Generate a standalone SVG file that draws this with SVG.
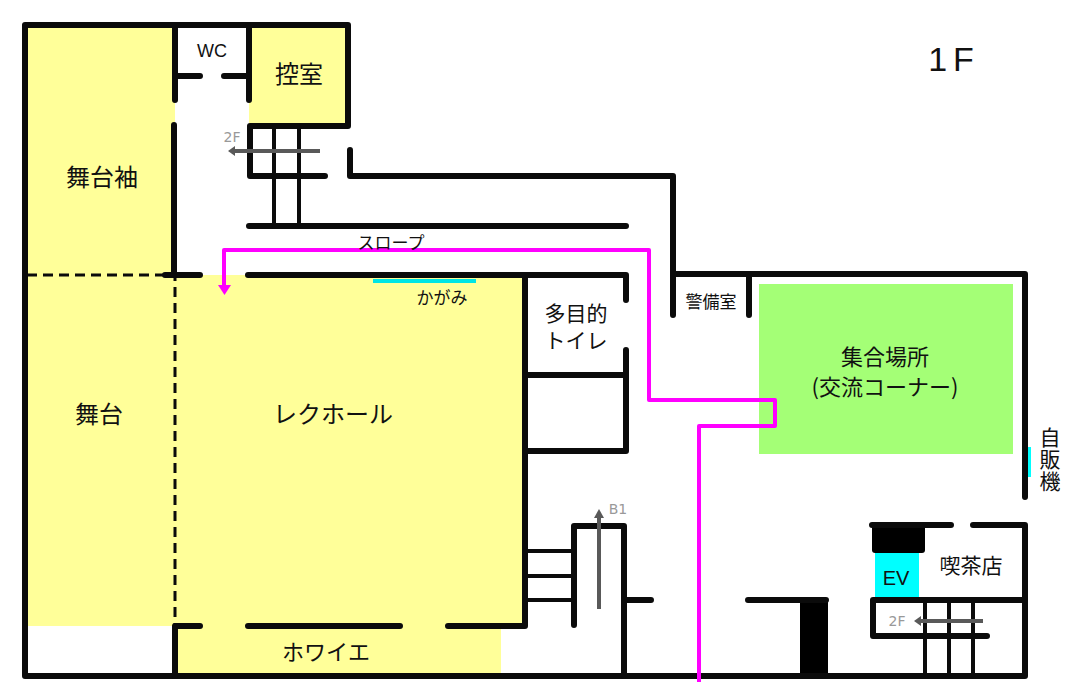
<svg xmlns="http://www.w3.org/2000/svg" width="1080" height="700" viewBox="0 0 1080 700">
<style>
text{font-family:"Noto Sans CJK JP","Liberation Sans",sans-serif;fill:#111;text-anchor:middle}
.f{font-family:"Liberation Sans","Noto Sans CJK JP",sans-serif}
.w{stroke:#0b0b0b;stroke-width:6;fill:none;stroke-linecap:round;stroke-linejoin:round}
.t{stroke:#0b0b0b;stroke-width:4;fill:none}
.y{fill:#ffff99}
.g{stroke:#595959;stroke-width:4;fill:none}
.gt{fill:#999;font-size:14px;font-family:"DejaVu Sans",sans-serif}
.m{stroke:#ff00ff;stroke-width:4;fill:none;stroke-linejoin:round}
</style>
<rect width="1080" height="700" fill="#fff"/>
<g id="rooms">
<rect class="y" x="25" y="25" width="150" height="601"/>
<rect class="y" x="175" y="275" width="350" height="351"/>
<rect class="y" x="175" y="626" width="326" height="50"/>
<rect class="y" x="249" y="25" width="99" height="101"/>
<rect x="759" y="284" width="254" height="170" fill="#a4ff76"/>
<rect x="875" y="553" width="44" height="45" fill="#00ffff"/>
<rect x="373" y="279" width="103" height="4" fill="#00e5e5"/>
<rect x="1027" y="447" width="4" height="30" fill="#00ffff"/>
<rect x="872" y="525" width="53" height="28" rx="3" fill="#000"/>
<rect x="800" y="598" width="28" height="78" fill="#000"/>
</g>
<g id="walls">
<path class="w" d="M175 100V25M249 100V25M25 25H348V126H250V176H325M25 25V676H1025V525H973M951 525H872M175 76H200M224 76H249"/>
<path class="w" d="M174 125V275M165 275H200M249 226H626M248 275H626V300M626 350V451H525M525 275V626H448M400 626H248M200 626H175V676M525 375H626"/>
<path class="w" d="M350 150V176H673V315M673 274H1025V497M749 274V315"/>
<path class="w" d="M574 625V526H624V676M624 600H651M748 600H826M873 600H1025M873 600V636H987"/>
<path class="t" d="M274 126V226M299 126V226M527 551H574M527 576H574M527 600H574M925 600V676M949 600V676M973 600V676"/>
<path d="M27 275H175V626" fill="none" stroke="#0b0b0b" stroke-width="3" stroke-dasharray="10 6"/>
</g>
<g id="connectors">
<path class="m" d="M224 288V250H649V400H775V426H699V682"/>
<path d="M218 285H231L224.500 295Z" fill="#ff00ff"/>
<path class="g" d="M320 151H234"/><path d="M228 151L235 146V156Z" fill="#595959"/>
<path class="g" d="M599 609V516"/><path d="M599 509L604 518H594Z" fill="#595959"/>
<path class="g" d="M983 621H920"/><path d="M914 621L921 616V626Z" fill="#595959"/>
</g>
<g id="labels">
<text x="954" y="71" font-size="34" class="f" letter-spacing="6">1F</text>
<text x="212" y="57" font-size="18" class="f">WC</text>
<text x="299" y="83" font-size="24">控室</text>
<text x="232" y="142" class="gt">2F</text>
<text x="102" y="186" font-size="24">舞台袖</text>
<text x="391" y="249" font-size="17">スロープ</text>
<text x="442" y="304" font-size="17">かがみ</text>
<text x="576" y="321" font-size="21">多目的</text>
<text x="576" y="348" font-size="21">トイレ</text>
<text x="711" y="308" font-size="17">警備室</text>
<text x="885" y="365" font-size="22">集合場所</text>
<text x="885" y="395" font-size="22">(交流コーナー)</text>
<text x="99" y="423" font-size="24">舞台</text>
<text x="333" y="423" font-size="24">レクホール</text>
<text x="1050" y="445" font-size="21">自</text>
<text x="1050" y="467" font-size="21">販</text>
<text x="1050" y="489" font-size="21">機</text>
<text x="618" y="514" class="gt">B1</text>
<text x="971" y="573" font-size="21">喫茶店</text>
<text x="896" y="585" font-size="20" class="f">EV</text>
<text x="897" y="626" class="gt">2F</text>
<text x="326" y="660" font-size="22">ホワイエ</text>
</g>
</svg>
